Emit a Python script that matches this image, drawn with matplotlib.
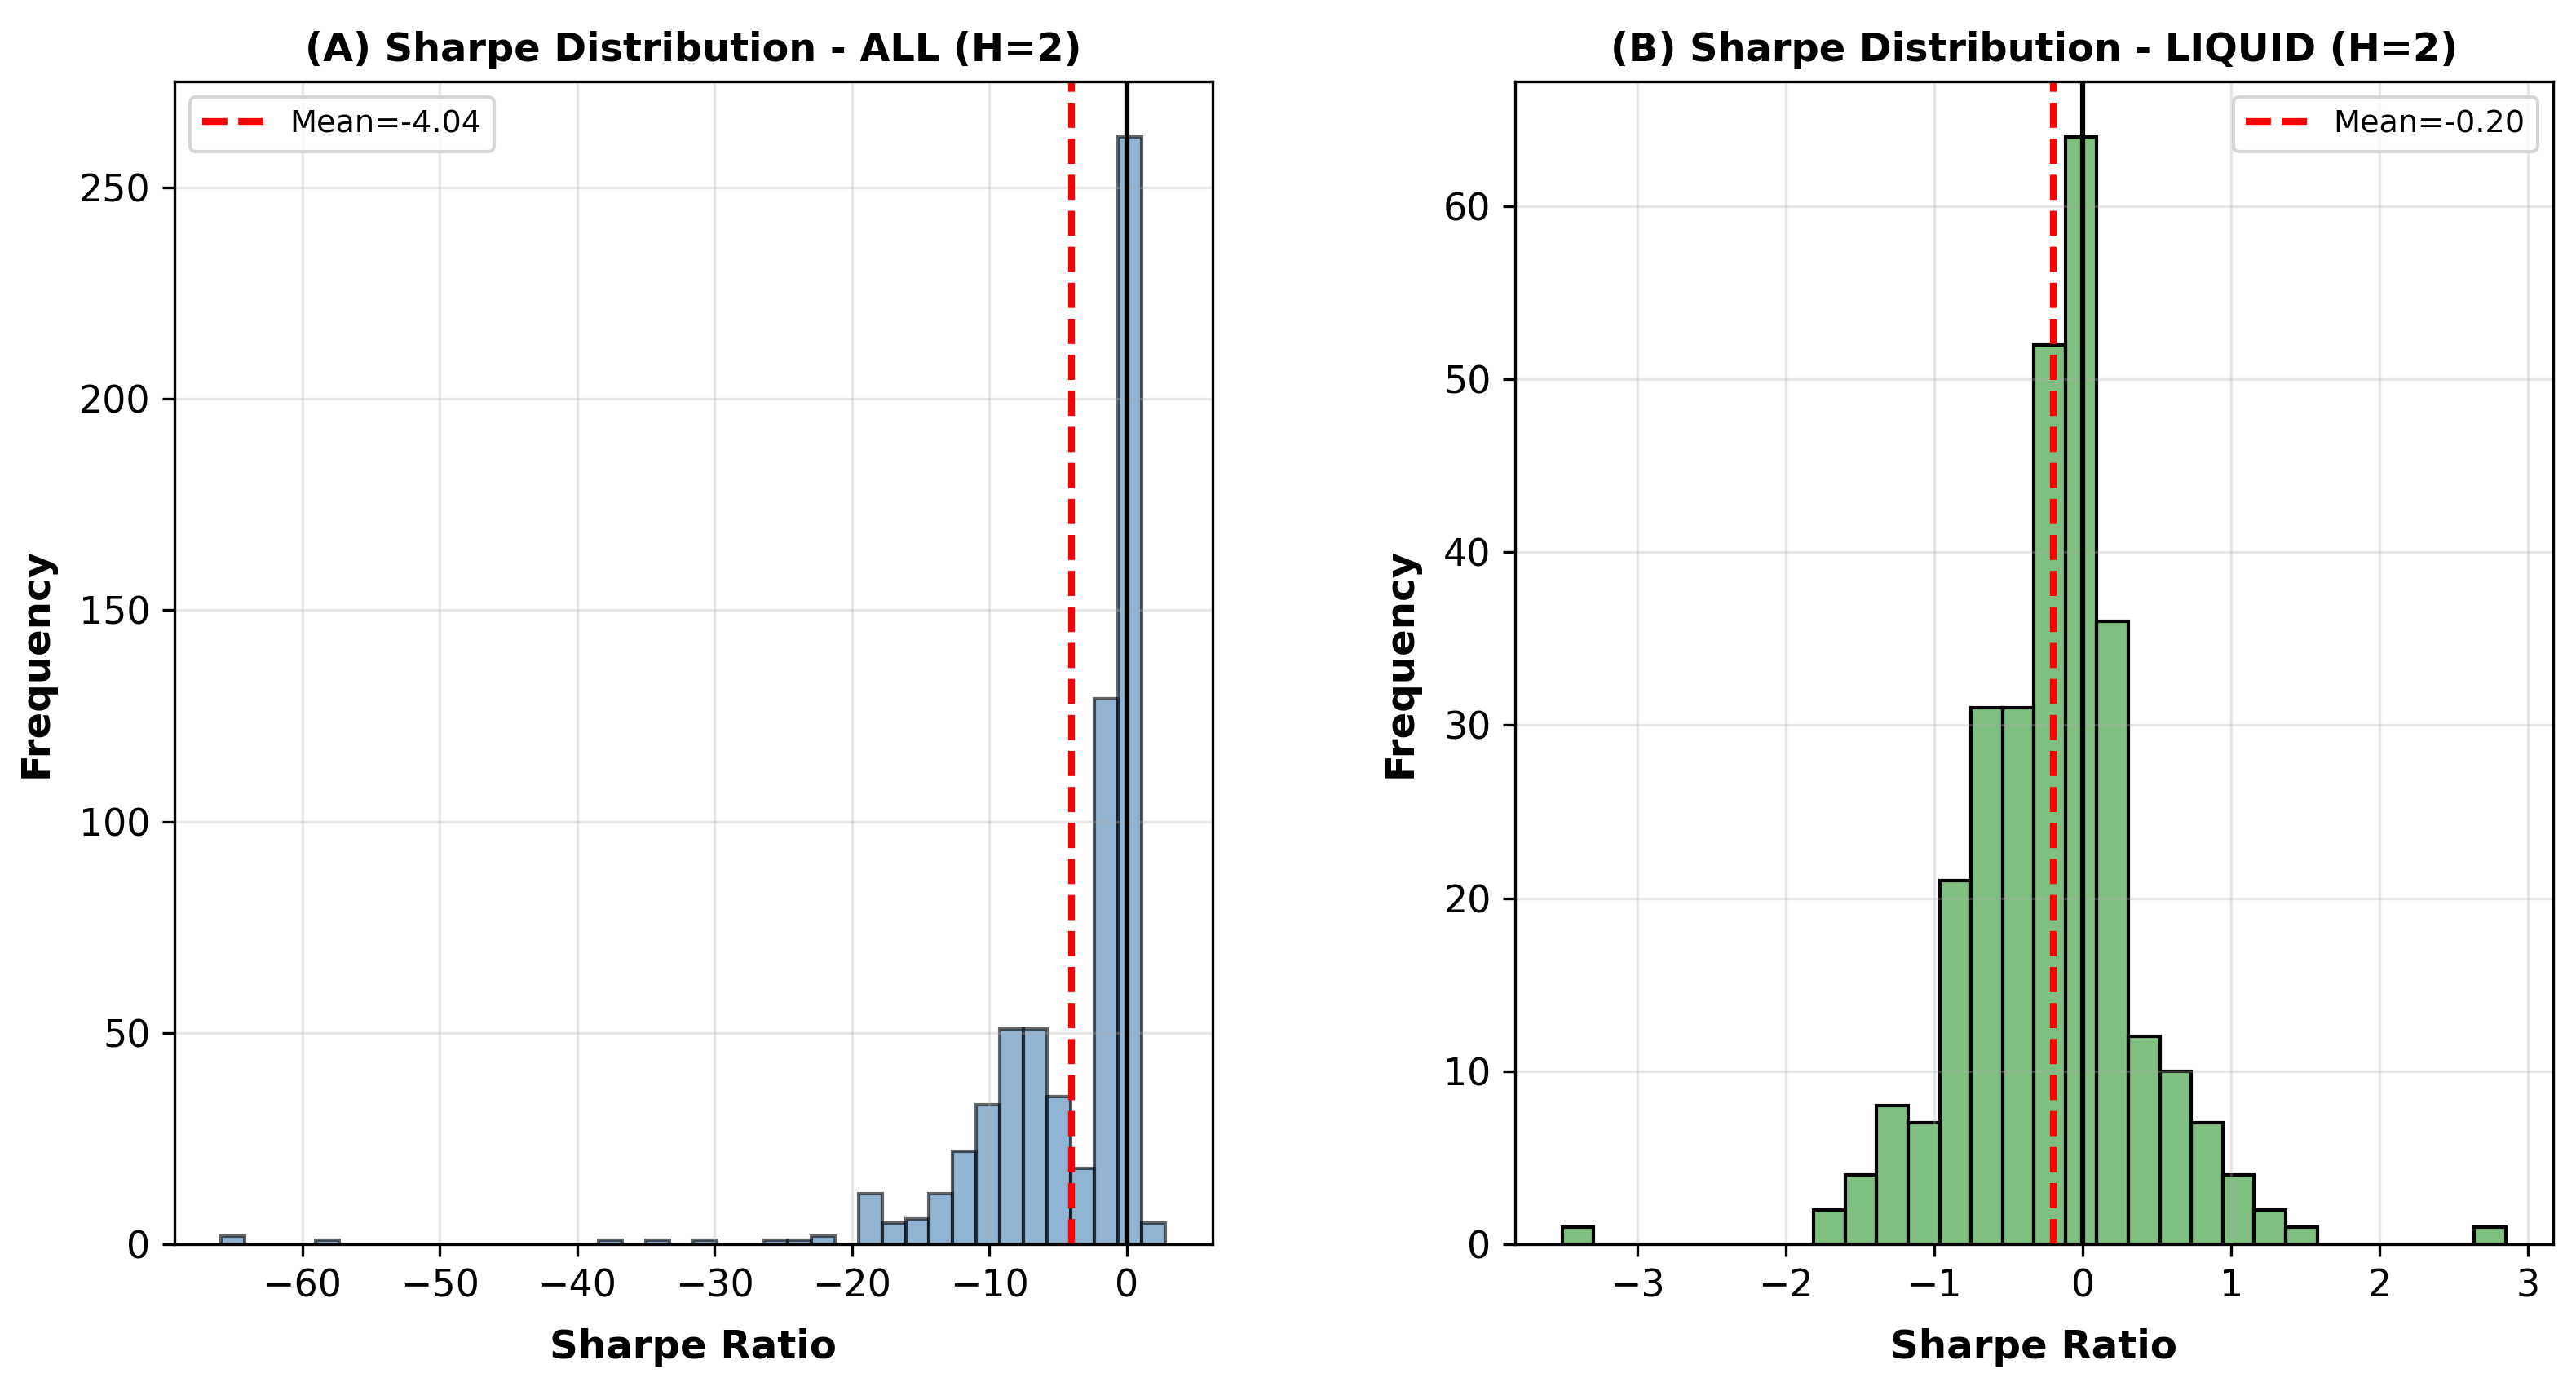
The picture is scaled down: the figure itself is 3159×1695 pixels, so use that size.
import numpy as np
import matplotlib
matplotlib.use('Agg')
import matplotlib.pyplot as plt
from matplotlib.colors import to_rgba

# panel A: all assets, 40 bins between the min and max sharpe
all_lo, all_hi = -65.9, 2.8
all_counts = [2, 0, 0, 0, 1, 0, 0, 0, 0, 0,
              0, 0, 0, 0, 0, 0, 1, 0, 1, 0,
              1, 0, 0, 1, 1, 2, 0, 12, 5, 6,
              12, 22, 33, 51, 51, 35, 18, 129, 262, 5]
all_mean = -4.04

# panel B: liquid assets, 30 bins
liq_lo, liq_hi = -3.51, 2.85
liq_counts = [1, 0, 0, 0, 0, 0, 0, 0, 2, 4,
              8, 7, 21, 31, 31, 52, 64, 36, 12, 10,
              7, 4, 2, 1, 0, 0, 0, 0, 0, 1]
liq_mean = -0.20

titles = ['(A) Sharpe Distribution - ALL (H=2)',
          '(B) Sharpe Distribution - LIQUID (H=2)']


def sharpe_hist(ax, lo, hi, counts, mean, title, face, edge, alpha=None):
    """
    histogram from the binned counts, plus mean and zero lines
    """
    edges = np.linspace(lo, hi, len(counts) + 1)
    centers = 0.5 * (edges[:-1] + edges[1:])
    ax.hist(centers, bins=edges, weights=counts, facecolor=face,
            edgecolor=edge, linewidth=1.0, alpha=alpha)
    ax.axvline(mean, color='red', linestyle='--', linewidth=2,
               label='Mean={0:.2f}'.format(mean))
    ax.axvline(0, color='black', linewidth=1.5)
    ax.set_xlabel('Sharpe Ratio', fontsize=11.6, fontweight='bold', labelpad=7)
    ax.set_ylabel('Frequency', fontsize=11.6, fontweight='bold', labelpad=7)
    ax.set_title(title, fontsize=11.5, fontweight='bold')
    ax.tick_params(labelsize=11)
    ax.grid(True, alpha=0.3)
    ax.legend(fontsize=9.2)


fig, axes = plt.subplots(1, 2, figsize=(3159 / 300, 1695 / 300))
fig.subplots_adjust(left=0.0676, right=0.9911, bottom=0.0997, top=0.941,
                    wspace=0.2914)

sharpe_hist(axes[0], all_lo, all_hi, all_counts, all_mean, titles[0],
            'steelblue', 'black', alpha=0.6)
sharpe_hist(axes[1], liq_lo, liq_hi, liq_counts, liq_mean, titles[1],
            to_rgba('green', 0.5), 'black')

fig.savefig('out.png', dpi=300)
